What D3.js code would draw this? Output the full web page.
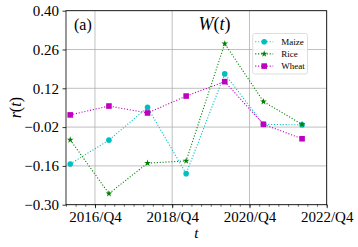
<!DOCTYPE html>
<html>
<head>
<meta charset="utf-8">
<script src="https://cdn.jsdelivr.net/npm/d3@7"></script>
<style>
  body { margin: 0; background: #fff; }
  text { font-family: "Liberation Serif", "DejaVu Serif", serif; }
</style>
</head>
<body>
<div id="chart"></div>
<script>
// yearly points, x = observation date
var dates = ["2016-02-10", "2017-02-10", "2018-02-10", "2019-02-10", "2020-02-10", "2021-02-10", "2022-02-10"];
var maize = [-0.153, -0.067, 0.051, -0.188, 0.172, -0.010, -0.012];
var rice  = [-0.066, -0.260, -0.150, -0.142, 0.281, 0.072, -0.010];
var wheat = [0.024, 0.056, 0.031, 0.092, 0.144, -0.010, -0.062];
var yTicks = [-0.30, -0.16, -0.02, 0.12, 0.26, 0.40];
var xTickDates = ["2016-10-01", "2018-10-01", "2020-10-01", "2022-10-01"];

var margin = {top: 10.7, right: 31.3, bottom: 42.3, left: 66}
  , width = 358 - margin.left - margin.right
  , height = 247 - margin.top - margin.bottom;

var parse = d3.timeParse("%Y-%m-%d");

var xScale = d3.scaleTime()
    .domain([parse("2016-01-01"), parse("2022-10-01")])
    .range([0, width]);

var yScale = d3.scaleLinear()
    .domain([-0.30, 0.40])
    .range([height, 0]);

var svg = d3.select("#chart").append("svg")
    .attr("width", 358)
    .attr("height", 247);

var g = svg.append("g")
    .attr("transform", "translate(" + margin.left + "," + margin.top + ")");

// grid
g.selectAll(".ygrid").data(yTicks).enter().append("line")
    .attr("x1", 0).attr("x2", width)
    .attr("y1", function(d) { return yScale(d); })
    .attr("y2", function(d) { return yScale(d); })
    .attr("stroke", "#b0b0b0").attr("stroke-width", 0.8);
g.selectAll(".xgrid").data(xTickDates.map(parse)).enter().append("line")
    .attr("y1", 0).attr("y2", height)
    .attr("x1", function(d) { return xScale(d); })
    .attr("x2", function(d) { return xScale(d); })
    .attr("stroke", "#b0b0b0").attr("stroke-width", 0.8);

// minor quarterly ticks on x
var minor = d3.timeMonth.every(3).range(parse("2016-01-01"), parse("2022-10-02"));
g.append("g")
    .attr("transform", "translate(0," + height + ")")
    .call(d3.axisBottom(xScale).tickValues(minor).tickSize(2).tickFormat(""))
    .call(function(a) { a.select(".domain").remove(); a.selectAll("line").attr("stroke-width", 0.6); });

// x axis
var fmt = function(d) { return d.getFullYear() + "/Q4"; };
g.append("g")
    .attr("class", "x axis")
    .attr("transform", "translate(0," + height + ")")
    .call(d3.axisBottom(xScale).tickValues(xTickDates.map(parse)).tickFormat(fmt).tickSize(3.5).tickPadding(3))
    .call(function(a) {
      a.select(".domain").remove();
      a.selectAll("line").attr("stroke-width", 0.8);
      a.selectAll("text").attr("font-size", "15px").attr("font-family", "Liberation Serif").attr("fill", "#000");
    });

// y axis
g.append("g")
    .attr("class", "y axis")
    .call(d3.axisLeft(yScale).tickValues(yTicks).tickFormat(function(d) { return d3.format(".2f")(d).replace("-", "\u2212"); }).tickSize(3.5).tickPadding(3.5))
    .call(function(a) {
      a.select(".domain").remove();
      a.selectAll("line").attr("stroke-width", 0.8);
      a.selectAll("text").attr("font-size", "15px").attr("font-family", "Liberation Serif").attr("fill", "#000");
    });

// series
var series = [
  {name: "Maize", values: maize, color: "#00bfbf", marker: "circle"},
  {name: "Rice", values: rice, color: "#008000", marker: "star"},
  {name: "Wheat", values: wheat, color: "#bf00bf", marker: "square"}
];

var line = d3.line()
    .x(function(d, i) { return xScale(parse(dates[i])); })
    .y(function(d) { return yScale(d); });

function drawMarker(sel, s, cx, cy) {
  if (s.marker == "circle") {
    sel.append("circle").attr("cx", cx).attr("cy", cy).attr("r", 2.8).attr("fill", s.color);
  } else if (s.marker == "square") {
    sel.append("rect").attr("x", cx - 2.8).attr("y", cy - 2.8).attr("width", 5.6).attr("height", 5.6).attr("fill", s.color);
  } else {
    sel.append("path").attr("d", d3.symbol().type(d3.symbolStar).size(14)())
      .attr("transform", "translate(" + cx + "," + cy + ")").attr("fill", s.color);
  }
}

series.forEach(function(s) {
  g.append("path")
    .datum(s.values)
    .attr("d", line)
    .attr("fill", "none")
    .attr("stroke", s.color)
    .attr("stroke-width", 1.1)
    .attr("stroke-dasharray", "1.1,1.8");
  s.values.forEach(function(v, i) {
    drawMarker(g, s, xScale(parse(dates[i])), yScale(v));
  });
});

// frame
g.append("rect").attr("width", width).attr("height", height)
    .attr("fill", "none").attr("stroke", "#000").attr("stroke-width", 0.8);

// legend
var lg = g.append("g").attr("transform", "translate(" + (252.7 - margin.left) + "," + (33.5 - margin.top) + ")");
lg.append("rect").attr("width", 54.8).attr("height", 40.5).attr("rx", 2)
    .attr("fill", "#fff").attr("fill-opacity", 0.8).attr("stroke", "#d6d6d6").attr("stroke-width", 0.8);
series.forEach(function(s, i) {
  var yy = 8.2 + i * 12.2;
  lg.append("line").attr("x1", 2.5).attr("x2", 20.5).attr("y1", yy).attr("y2", yy)
    .attr("stroke", s.color).attr("stroke-width", 1.1).attr("stroke-dasharray", "1.1,1.8");
  drawMarker(lg, s, 11.5, yy);
  lg.append("text").attr("x", 28.5).attr("y", yy + 3).attr("font-size", "9px").text(s.name);
});

// annotations
g.append("text").attr("x", 74 - margin.left).attr("y", 30.5 - margin.top)
    .attr("font-size", "16px").text("(a)");
var wt = g.append("text").attr("x", 214.5 - margin.left).attr("y", 30 - margin.top)
    .attr("text-anchor", "middle").attr("font-size", "18px");
wt.append("tspan").attr("font-style", "italic").text("W");
wt.append("tspan").text("(");
wt.append("tspan").attr("font-style", "italic").text("t");
wt.append("tspan").text(")");

// axis labels
g.append("text").attr("x", width / 2).attr("y", 238 - margin.top)
    .attr("text-anchor", "middle").attr("font-size", "15px").attr("font-style", "italic").text("t");
var yl = g.append("text")
    .attr("transform", "translate(" + (20.5 - margin.left) + "," + (height / 2) + ") rotate(-90)")
    .attr("text-anchor", "middle").attr("font-size", "16px");
yl.append("tspan").attr("font-style", "italic").text("r");
yl.append("tspan").text("(");
yl.append("tspan").attr("font-style", "italic").text("t");
yl.append("tspan").text(")");
</script>
</body>
</html>
